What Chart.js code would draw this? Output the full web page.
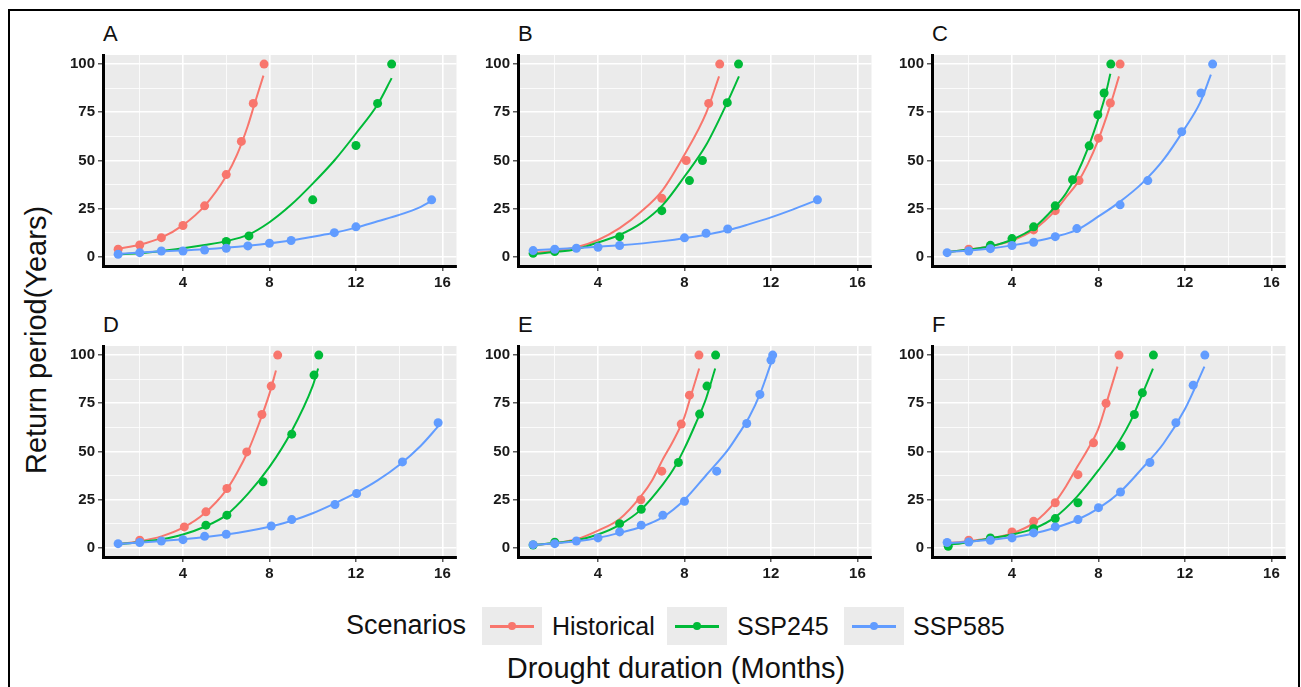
<!DOCTYPE html>
<html lang="en">
<head>
  <meta charset="UTF-8" />
  <title>Drought duration vs return period</title>
  <script src="https://cdn.jsdelivr.net/npm/chart.js@4.4.0"></script>
  <style>
    :root {
      --font: 'Liberation Sans', Arial, sans-serif;
      --panel-bg: #ebebeb;
      --clr-hist: #F8766D;
      --clr-245: #00BA38;
      --clr-585: #619CFF;
    }
    * { box-sizing: border-box; margin: 0; padding: 0; }
    body {
      width: 1301px;
      height: 687px;
      overflow: hidden;
      background: #fff;
      font-family: var(--font);
      color: #111;
      position: relative;
    }
    #frame {
      position: absolute;
      left: 8px; top: 9px;
      width: 1292px; height: 700px;
      border: 2px solid #000;
    }
    .panel { position: absolute; }
    .tag {
      position: absolute;
      font-size: 22px;
      line-height: 22px;
    }
    .lbl {
      position: absolute;
      white-space: nowrap;
      line-height: 1;
    }
    .key {
      position: absolute;
      width: 60px; height: 38px;
      background: var(--panel-bg);
    }
    .key i {
      position: absolute;
      left: 8px; right: 8px; top: 18px;
      height: 2.5px;
    }
    .key b {
      position: absolute;
      left: 26px; top: 15px;
      width: 8px; height: 8px;
      border-radius: 50%;
    }
    #ytitle {
      position: absolute;
      left: 36px; top: 340px;
      transform: translate(-50%, -50%) rotate(-90deg);
      font-size: 29px;
      white-space: nowrap;
    }
  </style>
</head>
<body>
  <div id="frame"></div>
  <div id="ytitle">Return period(Years)</div>
  <div id="panels"></div>

  <div class="lbl" style="left:346px; top:612px; font-size:27px;">Scenarios</div>
  <div class="key" style="left:482px; top:607px;"><i style="background:var(--clr-hist)"></i><b style="background:var(--clr-hist)"></b></div>
  <div class="lbl" style="left:552px; top:614px; font-size:25px;">Historical</div>
  <div class="key" style="left:667px; top:607px;"><i style="background:var(--clr-245)"></i><b style="background:var(--clr-245)"></b></div>
  <div class="lbl" style="left:737px; top:614px; font-size:25px;">SSP245</div>
  <div class="key" style="left:844px; top:607px;"><i style="background:var(--clr-585)"></i><b style="background:var(--clr-585)"></b></div>
  <div class="lbl" style="left:913px; top:614px; font-size:25px;">SSP585</div>
  <div class="lbl" style="left:676px; top:654px; font-size:29px; transform:translateX(-50%);">Drought duration (Months)</div>

  <script>
    // observed points [duration, return period] and fitted curves, per panel
    const A_histPts = [[1,4],[2,6.2],[3,10],[4,16.3],[5,26.5],[6,42.7],[6.7,59.9],[7.25,79.6],[7.75,100]];
    const A_histFit = [[1,4.2],[2,6.3],[3,10],[4,16.5],[5,26.5],[6,42],[6.5,53],[7,68],[7.3,79],[7.72,94]];
    const A_245Pts  = [[6,8],[7.05,10.9],[10,29.6],[12,57.8],[13,79.6],[13.65,100]];
    const A_245Fit  = [[1,1.4],[2,1.9],[4,4.5],[5,6.2],[6,8.2],[7,11.4],[8,18],[9,27],[10,38],[11,50],[12,64],[13,79],[13.65,92.7]];
    const A_585Pts  = [[1,1.4],[2,2.2],[3,3.1],[4,3.1],[5,3.6],[6,4.5],[7,5.7],[8,7.1],[9,8.5],[11,12.6],[12,15.6],[15.5,29.6]];
    const A_585Fit  = [[1,1.5],[3,2.9],[5,4],[7,5.8],[9,8.5],[10,10.5],[11,12.5],[12,15.2],[13,18.5],[14,21.8],[15,26],[15.5,29]];

    const B_histPts = [[6.95,30.4],[8.08,50],[9.12,79.6],[9.63,100]];
    const B_histFit = [[1,2],[2,3.2],[3,5],[4,8.8],[5,14.9],[6,23.5],[7,34.8],[8,53],[9,74.6],[9.6,93.6]];
    const B_245Pts  = [[1,1.9],[2,2.8],[5,10.5],[6.95,24],[8.23,39.6],[8.83,50],[9.98,80],[10.5,100]];
    const B_245Fit  = [[1,1.5],[2,2.5],[3,4],[4,7.5],[5,11.4],[6,17.5],[7,27],[8,41.7],[9,58],[10,80.6],[10.52,93.6]];
    const B_585Pts  = [[1,3.3],[2,4],[3,4.5],[4,5],[5,5.9],[8,9.9],[9,12.3],[10,14.5],[14.15,29.6]];
    const B_585Fit  = [[1,3.5],[3,4.6],[5,6],[7,8.2],[9,11.5],[10,13.8],[11,17],[12,20.5],[13,24.5],[14.15,29.6]];

    const C_histPts = [[2,4],[5,14],[6,24],[7.1,39.6],[8,61.6],[8.55,79.8],[9,100]];
    const C_histFit = [[1,2.5],[2,3.8],[3,5.5],[4,8.5],[5,14],[6,24],[6.5,31],[7,38],[7.5,48],[8,61],[8.5,77],[8.95,93.6]];
    const C_245Pts  = [[3,6],[4,9.5],[5,15.6],[6,26.5],[6.8,40],[7.57,57.6],[7.97,73.7],[8.26,85],[8.57,100]];
    const C_245Fit  = [[1,2.5],[2,3.8],[3,5.5],[4,9],[5,15],[6,26],[6.5,33],[7,43],[7.5,56],[8,72],[8.3,83],[8.55,95]];
    const C_585Pts  = [[1,2.2],[2,3.1],[3,4.3],[4,5.9],[5,7.6],[6,10.5],[7,14.7],[9,27],[10.28,39.6],[11.85,64.9],[12.74,85],[13.28,100]];
    const C_585Fit  = [[1,2.5],[2,3.3],[3,4.4],[4,6],[5,8],[6,10.5],[7,14],[8,21],[9,28.7],[10,38],[11,50.3],[12,66.8],[12.7,80],[13.2,94.5]];

    const D_histPts = [[2,4],[4.06,10.9],[5.06,18.7],[6.03,30.8],[6.95,49.8],[7.65,69.2],[8.08,83.9],[8.38,100]];
    const D_histFit = [[1,2],[2,3.5],[3,6],[4,10.5],[5,18],[6,30],[6.5,39],[7,50],[7.5,64],[8,80],[8.3,92]];
    const D_245Pts  = [[5.06,11.8],[6.03,17],[7.7,34.3],[9.03,59],[10.06,89.6],[10.28,100]];
    const D_245Fit  = [[1,2],[2,3],[3,4.5],[4,7],[5,11],[6,17],[7,28],[8,42],[9,60],[10,84],[10.25,93]];
    const D_585Pts  = [[1,2.2],[2,2.8],[3,3.6],[4,4.3],[5,6],[6,7.1],[8.08,11.4],[9.03,14.7],[11.03,22.5],[12.03,28.2],[14.15,44.6],[15.8,64.9]];
    const D_585Fit  = [[1,2],[2,2.8],[4,4.5],[6,7],[8,11],[9,14],[10,18],[11,23],[12,28.5],[13,35],[14,43],[15,53],[15.8,63]];

    const E_histPts = [[5.98,25],[6.95,39.8],[7.85,64.2],[8.23,79.2],[8.67,100]];
    const E_histFit = [[1,1.5],[2,2.5],[3,4.5],[4,9],[5,15],[6,27],[6.5,35],[7,46],[7.5,56],[8,68],[8.3,79],[8.68,93]];
    const E_245Pts  = [[1,1.5],[2,3],[5,12.6],[6,20],[7.72,44.3],[8.7,69.4],[9.04,83.9],[9.44,100]];
    const E_245Fit  = [[1,1.5],[2,2.5],[3,4],[4,7],[5,12],[6,20],[7,33],[7.5,41],[8,51.6],[8.5,64],[9,77.5],[9.42,93]];
    const E_585Pts  = [[1,1.7],[2,2.2],[3,3.6],[4,5.2],[5,8.3],[6,11.8],[7,17],[8,24.2],[9.49,39.8],[10.88,64.5],[11.49,79.6],[12,97.4],[12.08,100]];
    const E_585Fit  = [[1,1.5],[2,2.4],[3,3.5],[4,5.2],[5,7.8],[6,11],[7,16],[8,25],[9,37.7],[10,50.7],[10.5,59],[11,68],[11.5,80],[12,95.7]];

    const F_histPts = [[2,4],[4,8.3],[5,13.8],[6,23.4],[7.05,38],[7.77,54.5],[8.35,75],[8.95,100]];
    const F_histFit = [[1,2.5],[2,3.5],[3,5],[4,7.5],[5,13],[6,23.9],[6.5,32],[7,41.7],[7.5,51],[8,62],[8.5,80],[8.88,94]];
    const F_245Pts  = [[1.05,0.9],[3,5.2],[5,10],[6,15.2],[7.05,23.4],[9.05,52.8],[9.66,69.2],[10.03,80.4],[10.54,100]];
    const F_245Fit  = [[1,1.5],[2,3],[3,5],[4,7],[5,10],[6,16],[7,26.5],[8,40.3],[9,56],[9.5,66],[10,79],[10.52,93]];
    const F_585Pts  = [[1,2.8],[2,3.1],[3,4],[4,5.2],[5,7.8],[6,10.9],[7.05,14.7],[8,20.9],[9.02,29],[10.38,44.3],[11.58,64.9],[12.38,84.4],[12.92,100]];
    const F_585Fit  = [[1,2.5],[2,3.2],[3,4.2],[4,5.5],[5,7.5],[6,10.5],[7,14.5],[8,20.5],[9,29],[10,41],[11,54],[12,72],[12.9,94]];

    const scenarios = ['Historical', 'SSP245', 'SSP585'];
    const xTicks = [2, 4, 6, 8, 10, 12, 14, 16];
    const yTicks = [0, 12.5, 25, 37.5, 50, 62.5, 75, 87.5, 100];

    const colors = ['#F8766D', '#00BA38', '#619CFF'];

    const panels = [
      { tag: 'A', left: 103, top: 55,  series: [[A_histPts, A_histFit], [A_245Pts, A_245Fit], [A_585Pts, A_585Fit]] },
      { tag: 'B', left: 518, top: 55,  series: [[B_histPts, B_histFit], [B_245Pts, B_245Fit], [B_585Pts, B_585Fit]] },
      { tag: 'C', left: 932, top: 55,  series: [[C_histPts, C_histFit], [C_245Pts, C_245Fit], [C_585Pts, C_585Fit]] },
      { tag: 'D', left: 103, top: 346, series: [[D_histPts, D_histFit], [D_245Pts, D_245Fit], [D_585Pts, D_585Fit]] },
      { tag: 'E', left: 518, top: 346, series: [[E_histPts, E_histFit], [E_245Pts, E_245Fit], [E_585Pts, E_585Fit]] },
      { tag: 'F', left: 932, top: 346, series: [[F_histPts, F_histFit], [F_245Pts, F_245Fit], [F_585Pts, F_585Fit]] }
    ];

    // grey panel background (ggplot theme_gray)
    const panelBg = {
      id: 'panelBg',
      beforeDraw(chart) {
        const a = chart.chartArea, ctx = chart.ctx;
        ctx.save();
        ctx.fillStyle = '#ebebeb';
        ctx.fillRect(a.left, a.top, a.right - a.left, a.bottom - a.top);
        ctx.restore();
      }
    };

    const Y_AXIS_W = 50, X_AXIS_H = 30, PAD_TOP = 5, PAD_RIGHT = 3;
    const PLOT_W = 355, PLOT_H = 211;
    const tickFont = { family: 'Liberation Sans', size: 15, weight: 'bold' };
    const toXY = arr => arr.map(([x, y]) => ({ x, y }));

    function gridOpts(major) {
      return {
        color: '#ffffff',
        lineWidth: c => (c.tick && major(c.tick.value)) ? 1.6 : 0.8,
        tickLength: 5,
        tickColor: c => (c.tick && major(c.tick.value)) ? '#333' : 'rgba(0,0,0,0)',
        tickWidth: 1.2
      };
    }

    function buildPanel(p) {
      const wrap = document.createElement('div');
      wrap.className = 'panel';
      wrap.style.left = (p.left - Y_AXIS_W) + 'px';
      wrap.style.top = (p.top - PAD_TOP) + 'px';
      const canvas = document.createElement('canvas');
      canvas.width = Y_AXIS_W + PLOT_W + PAD_RIGHT;
      canvas.height = PAD_TOP + PLOT_H + X_AXIS_H;
      wrap.appendChild(canvas);
      document.getElementById('panels').appendChild(wrap);

      const tag = document.createElement('div');
      tag.className = 'tag';
      tag.textContent = p.tag;
      tag.style.left = p.left + 'px';
      tag.style.top = (p.top - 32) + 'px';
      document.body.appendChild(tag);

      const datasets = [];
      // later scenarios drawn on top -> lower order value
      p.series.forEach(([pts, fit], i) => {
        const ord = (2 - i) * 2;
        datasets.push({
          type: 'line',
          label: scenarios[i] + ' fit',
          data: toXY(fit),
          borderColor: colors[i],
          borderWidth: 2,
          pointRadius: 0,
          cubicInterpolationMode: 'monotone',
          fill: false,
          order: ord
        });
        datasets.push({
          type: 'scatter',
          label: scenarios[i],
          data: toXY(pts),
          backgroundColor: colors[i],
          borderColor: colors[i],
          pointRadius: 4.5,
          borderWidth: 0,
          showLine: false,
          order: ord + 1
        });
      });

      return new Chart(canvas, {
        type: 'scatter',
        data: { datasets },
        plugins: [panelBg],
        options: {
          responsive: false,
          animation: false,
          layout: { padding: { top: PAD_TOP, right: PAD_RIGHT, left: 0, bottom: 0 } },
          plugins: { legend: { display: false }, tooltip: { enabled: false } },
          scales: {
            x: {
              type: 'linear',
              min: 0.3,
              max: 16.65,
              afterBuildTicks: s => { s.ticks = xTicks.map(v => ({ value: v })); },
              afterFit: s => { s.height = X_AXIS_H; s.paddingLeft = 0; s.paddingRight = 0; },
              ticks: {
                callback: v => v % 4 === 0 ? v : '',
                font: tickFont,
                color: '#1a1a1a',
                padding: 3,
                maxRotation: 0,
                autoSkip: false
              },
              grid: gridOpts(v => v % 4 === 0),
              border: { display: true, color: '#000', width: 3 }
            },
            y: {
              type: 'linear',
              min: -4.7,
              max: 104.7,
              afterBuildTicks: s => { s.ticks = yTicks.map(v => ({ value: v })); },
              afterFit: s => { s.width = Y_AXIS_W; s.paddingTop = 0; s.paddingBottom = 0; },
              ticks: {
                callback: v => v % 25 === 0 ? v : '',
                font: tickFont,
                color: '#1a1a1a',
                padding: 3,
                autoSkip: false
              },
              grid: gridOpts(v => v % 25 === 0),
              border: { display: true, color: '#000', width: 3 }
            }
          }
        }
      });
    }

    panels.forEach(buildPanel);
  </script>
</body>
</html>
